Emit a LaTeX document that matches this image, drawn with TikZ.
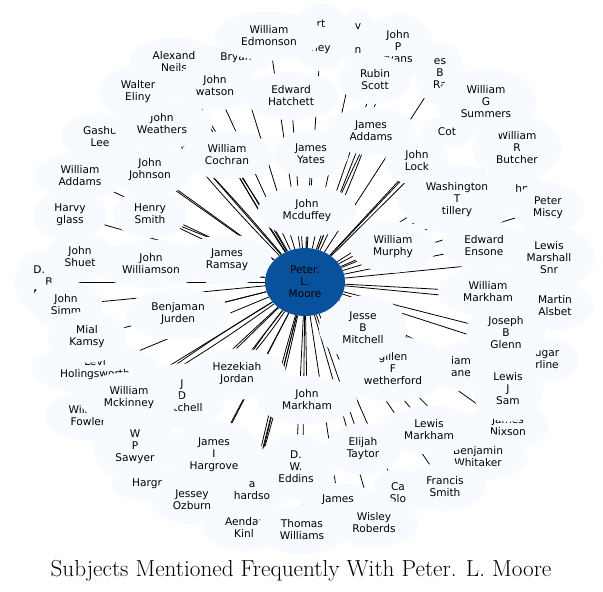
\documentclass[tikz,border=0pt]{standalone}
\usepackage{fontspec}
\newfontfamily\labelfont{DejaVu Sans}
\usetikzlibrary{shapes.geometric,backgrounds}
\definecolor{paleblue}{HTML}{F7FBFF}
\definecolor{focusblue}{HTML}{08519C}

\begin{document}
\begin{tikzpicture}[x=1pt,y=-1pt,
  subj/.style={ellipse,fill=paleblue,inner xsep=10.5pt,inner ysep=7pt,align=center,
    font=\labelfont\fontsize{10.6}{12}\selectfont},
  focus/.style={subj,fill=focusblue,inner sep=0pt,minimum width=80pt,minimum height=68pt},
  twin/.style={bend left=2},
  niwt/.style={bend right=2}]
  \useasboundingbox (0,0) rectangle (603,592);

  \node[subj] (neils) at (174,62) {Alexand\\Neils};
  \node[subj] (bryan) at (236,58) {Bryan};
  \node[subj] (rtney) at (321,37) {rt\\\mbox{}\\ney};
  \node[subj] (vn) at (358,39) {v\\\mbox{}\\n};
  \node[subj] (rvans) at (398,47) {John\\P\\rvans};
  \node[subj] (bra) at (440,74) {es\\B\\Ra};
  \node[subj] (cot) at (447,132) {Cot};
  \node[subj] (hn) at (522,188) {hn};
  \node[subj] (lee) at (100,137) {Gashu\\Lee};
  \node[subj, align=left] (dbm) at (43,282) {D.\\\hspace*{12pt}B\\M};
  \node[subj] (ugar) at (547,360) {ugar\\rline};
  \node[subj] (iam) at (461,367) {iam\\ane};
  \node[subj] (slo) at (398,493) {Ca\\Slo};
  \node[subj] (hardso) at (252,491) {a\\hardso};
  \node[subj] (james) at (338,500) {James};
  \node[subj] (nixson) at (508,426) {James\\Nixson};
  \node[subj] (fowler) at (88,416) {William\\Fowler};
  \node[subj] (ramsay) at (227,260) {James\\Ramsay};
  \node[subj] (jmitchell) at (182,396) {J\\D\\Mitchell};
  \node[subj] (levi) at (95,369) {Levi\\Holingsworth};

  \node[subj] (edmonson) at (269,36) {William\\Edmonson};
  \node[subj] (watson) at (215,86) {John\\watson};
  \node[subj] (weathers) at (162,124) {John\\Weathers};
  \node[subj] (eliny) at (138,92) {Walter\\Eliny};
  \node[subj] (hatchett) at (291,96) {Edward\\Hatchett};
  \node[subj] (scott) at (375,80) {Rubin\\Scott};
  \node[subj] (butcher) at (517,148) {William\\R\\Butcher};
  \node[subj] (summers) at (486,102) {William\\G\\Summers};
  \node[subj] (jaddams) at (371,131) {James\\Addams};
  \node[subj] (lock) at (417,161) {John\\Lock};
  \node[subj] (tillery) at (457,200) {Washington\\T\\tillery};
  \node[subj] (miscy) at (548,208) {Peter\\Miscy};
  \node[subj] (yates) at (311,154) {James\\Yates};
  \node[subj] (cochran) at (227,155) {William\\Cochran};
  \node[subj] (waddams) at (80,176) {William\\Addams};
  \node[subj] (johnson) at (150,170) {John\\Johnson};
  \node[subj] (mcduffey) at (307,211) {John\\Mcduffey};
  \node[subj] (hsmith) at (150,214) {Henry\\Smith};
  \node[subj] (glass) at (70,215) {Harvy\\glass};
  \node[subj] (murphy) at (393,247) {William\\Murphy};
  \node[subj] (ensone) at (484,246) {Edward\\Ensone};
  \node[subj] (marshall) at (549,258) {Lewis\\Marshall\\Snr};
  \node[subj] (williamson) at (151,264) {John\\Williamson};
  \node[subj] (shuet) at (80,257) {John\\Shuet};
  \node[subj] (jurden) at (178,314) {Benjaman\\Jurden};
  \node[subj] (glenn) at (506,333) {Joseph\\B\\Glenn};
  \node[subj] (wmarkham) at (488,292) {William\\Markham};
  \node[subj] (alsbet) at (555,306) {Martin\\Alsbet};
  \node[subj] (simm) at (66,305) {John\\Simm};
  \node[subj] (kamsy) at (87,337) {Mial\\Kamsy};
  \node[subj] (wetherford) at (393,369) {gillen\\F\\wetherford};
  \node[subj] (jbmitchell) at (363,328) {Jesse\\B\\Mitchell};
  \node[subj] (sam) at (508,389) {Lewis\\J\\Sam};
  \node[subj] (jmarkham) at (307,400) {John\\Markham};
  \node[subj] (jordan) at (237,374) {Hezekiah\\Jordan};
  \node[subj] (mckinney) at (129,398) {William\\Mckinney};
  \node[subj] (sawyer) at (135,447) {W\\P\\Sawyer};
  \node[subj] (hargrove) at (214,455) {James\\I\\Hargrove};
  \node[subj] (hargr) at (147,484) {Hargr};
  \node[subj] (ozburn) at (192,500) {Jessey\\Ozburn};
  \node[subj] (kinl) at (244,527) {Aendar\\Kinl};
  \node[subj] (eddins) at (296,467) {D.\\W.\\Eddins};
  \node[subj] (taytor) at (363,449) {Elijah\\Taytor};
  \node[subj] (whitaker) at (478,457) {Benjamin\\Whitaker};
  \node[subj] (lmarkham) at (429,430) {Lewis\\Markham};
  \node[subj] (fsmith) at (445,487) {Francis\\Smith};
  \node[subj] (roberds) at (374,523) {Wisley\\Roberds};
  \node[subj] (williams) at (302,530) {Thomas\\Williams};

  \node[focus] (c) at (305,282) {Peter.\\L.\\Moore};

  \node[font=\fontsize{23.2}{27}\selectfont] (title) at (301,571) {Subjects Mentioned Frequently With Peter. L. Moore};

  \begin{pgfonlayer}{background}
  \path[draw, line width=0.8pt]
    (c) edge (neils) edge[twin] (neils) edge (bryan) edge (rtney) edge (vn) edge (rvans)
        edge (bra) edge (cot) edge (hn) edge (lee) edge (dbm) edge (simm) edge (ugar)
        edge (iam) edge (slo) edge (hargr) edge (hardso) edge[twin] (hardso) edge (kinl)
        edge[niwt] (kinl) edge (james) edge (nixson) edge (fowler) edge (ramsay)
        edge (jmitchell) edge (levi) edge (edmonson) edge (watson) edge (eliny)
        edge[twin] (weathers) edge[niwt] (weathers) edge (hatchett) edge (scott)
        edge (summers) edge[twin] (jaddams) edge[niwt] (jaddams) edge (butcher) edge (lock)
        edge (tillery) edge (miscy) edge (yates) edge[twin] (cochran) edge[niwt] (cochran)
        edge (waddams) edge (johnson) edge (mcduffey) edge[twin] (hsmith) edge[niwt] (hsmith)
        edge (glass) edge (murphy) edge (ensone) edge (marshall) edge (williamson)
        edge (shuet) edge (jurden) edge (wmarkham) edge (alsbet) edge (kamsy)
        edge (jbmitchell) edge (glenn) edge (sam) edge (wetherford) edge (jmarkham)
        edge[twin] (jordan) edge[niwt] (jordan) edge[twin] (mckinney) edge[niwt] (mckinney)
        edge (sawyer) edge (hargrove) edge (ozburn) edge (eddins) edge (taytor)
        edge (lmarkham) edge (whitaker) edge (fsmith) edge (roberds) edge (williams);
  \end{pgfonlayer}
\end{tikzpicture}
\end{document}
